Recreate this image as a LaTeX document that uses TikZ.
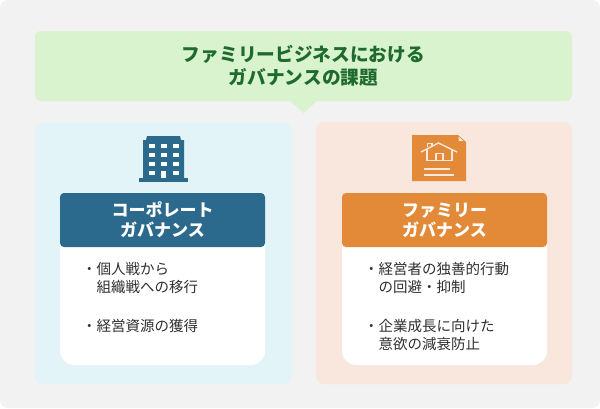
\documentclass[tikz,border=0pt]{standalone}
\usepackage{fontspec}
\usepackage{xcolor}
\setmainfont{Noto Sans CJK JP}
\usetikzlibrary{positioning}
\definecolor{pagegray}{HTML}{F2F2F2}
\definecolor{titlegreen}{HTML}{DAF3CF}
\definecolor{titleink}{HTML}{1F6B2E}
\definecolor{corpblue}{HTML}{2B6A8D}
\definecolor{corppale}{HTML}{E2F4F7}
\definecolor{familyorange}{HTML}{E28A38}
\definecolor{familypale}{HTML}{F9E6DD}
\definecolor{bodyink}{HTML}{303030}
\tikzset{
x=1pt, y=-1pt, % picture is laid out in reference pixels, top down
panel/.style={rounded corners=8pt, inner sep=0pt}, % the two pale columns
sheet/.style={fill=white, rounded corners=14pt}, % white card below each header
header/.style={rounded corners=4pt, text=white, align=center, font=\fontsize{17}{20}\selectfont\bfseries},
item/.style={anchor=west, align=left, inner sep=0pt, text=bodyink, font=\fontsize{14.5}{18}\selectfont},
}
\begin{document}
\begin{tikzpicture}
        \useasboundingbox (0,0) rectangle (600,408);
        \fill[pagegray, rounded corners=8pt] (0,0) rectangle (600,408);

        % title with its pointer
        \fill[titlegreen] (290,101) -- (303.5,113) -- (317,101) -- cycle;
        \node[fill=titlegreen, rounded corners=6pt, minimum width=537pt, minimum height=70pt, inner sep=0pt,
              text=titleink, align=center, font=\fontsize{18.7}{23}\selectfont\bfseries] (title) at (303.5,66)
              {ファミリービジネスにおける\\ガバナンスの課題};

        % columns
        \fill[corppale, panel] (35,122) rectangle (292,384);
        \fill[familypale, panel] (316,122) rectangle (572,384);

        % left building
        \fill[corpblue] (139,178) rectangle (188,182);
        \fill[corpblue] (143,179) -- (143,140) -- (146,140) -- (147,136) -- (180,136) -- (181,140) -- (184,140) -- (184,179) -- cycle;
        \foreach \rowy in {146,155,164,173}
            \foreach \colx in {151.5,163.5,176}
                \fill[white] (\colx-3,\rowy-1.7) rectangle (\colx+3,\rowy+1.7);
        \fill[corpblue] (160,170) rectangle (167,178);
        \fill[white] (161,171) rectangle (166,178);

        % right document with house
        \fill[familyorange] (412,135) -- (458,135) -- (466,142) -- (466,181) -- (412,181) -- cycle;
        \fill[familypale] (458.5,136.5) -- (463.5,141) -- (458.5,141) -- cycle;
        \begin{scope}[familypale, line width=1.4pt]
            \draw (421,152) -- (438.5,143) -- (457,152);
            \draw (427,149) -- (427,160.5) -- (452,160.5) -- (452,149);
            \draw (436,160.5) -- (436,153.5) -- (443,153.5) -- (443,160.5);
            \draw (427.5,147) -- (427.5,143.5) -- (432,143.5) -- (432,146);
            \draw (424,169) -- (450,169);
            \draw (424,175) -- (454,175);
        \end{scope}

        % left card
        \fill[sheet] (60,230) rectangle (265,365);
        \node[header, fill=corpblue, minimum width=205pt, minimum height=54pt, inner sep=0pt] (corphead) at (162.5,220) {コーポレート\\ガバナンス};
        \node[item] (corpone) at (82,278) {・個人戦から\\\hspace{1em}組織戦への移行};
        \node[item] (corptwo) at (82,326) {・経営資源の獲得};

        % right card
        \fill[sheet] (342,230) rectangle (547,365);
        \node[header, fill=familyorange, minimum width=205pt, minimum height=54pt, inner sep=0pt] (familyhead) at (444.5,220) {ファミリー\\ガバナンス};
        \node[item] (familyone) at (364,278) {・経営者の独善的行動\\\hspace{1em}の回避・抑制};
        \node[item] (familytwo) at (364,335) {・企業成長に向けた\\\hspace{1em}意欲の減衰防止};
\end{tikzpicture}
\end{document}
